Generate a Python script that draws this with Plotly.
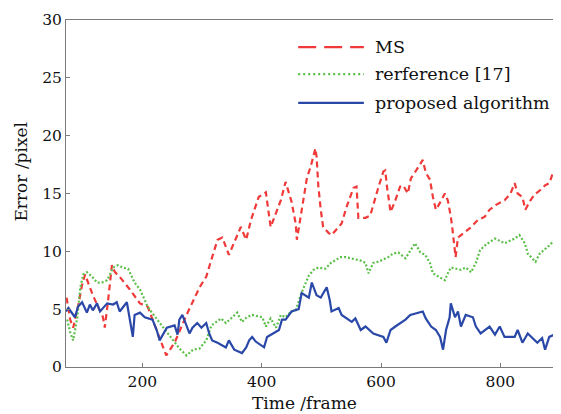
import plotly.graph_objects as go

# ---- data ----
ms_x = [73, 79, 84, 92, 99, 104, 109, 117, 134, 137, 142, 149, 154, 162, 179, 196, 209, 224, 234, 240,
        254, 274, 296, 307, 317, 326, 334, 340, 345, 365, 374, 382, 395, 407, 415, 432, 440, 450, 457, 459,
        467, 476, 482, 490, 492, 495, 499, 503, 512, 517, 529, 534, 542, 554, 559, 562, 574, 582, 596, 604,
        607, 610, 616, 624, 632, 637, 645, 650, 659, 670, 675, 682, 687, 692, 700, 707, 712, 717, 720, 725,
        729, 740, 749, 762, 774, 782, 792, 807, 817, 824, 829, 837, 842, 849, 857, 867, 875, 882, 887, 896]
ms_y = [6.0, 4.1, 3.4, 5.2, 7.1, 8.0, 7.3, 6.2, 4.3, 3.4, 5.5, 8.8, 8.2, 7.8, 6.7, 5.5, 5.2, 3.2, 1.7, 1.0,
        2.1, 4.5, 6.9, 7.8, 9.5, 11.0, 11.2, 10.4, 9.7, 12.1, 11.0, 12.7, 14.7, 15.1, 12.1, 14.4, 16.0, 14.3, 12.4, 11.0,
        13.6, 16.4, 17.3, 18.9, 18.2, 15.6, 13.6, 12.1, 11.6, 11.4, 12.1, 12.4, 13.8, 15.5, 15.6, 12.9, 12.9, 13.1, 15.6, 16.9,
        17.0, 15.6, 13.4, 14.4, 15.6, 15.7, 15.0, 16.3, 17.0, 17.9, 16.8, 16.2, 14.7, 13.6, 14.3, 15.0, 14.4, 13.0, 11.8, 9.5,
        11.2, 11.6, 12.0, 12.7, 13.0, 13.6, 14.0, 14.4, 15.0, 15.9, 15.0, 14.7, 13.6, 14.3, 14.9, 15.3, 15.7, 15.9, 16.6, 17.6]

ref_x = [74, 79, 84, 91, 96, 101, 107, 116, 124, 132, 141, 146, 151, 159, 167, 176, 182, 187, 196, 204,
         209, 216, 229, 241, 251, 262, 274, 285, 296, 307, 316, 324, 332, 340, 350, 359, 367, 375, 384, 401,
         407, 415, 424, 432, 440, 449, 457, 466, 474, 479, 487, 495, 507, 516, 532, 541, 549, 566, 574, 579,
         587, 596, 612, 620, 629, 641, 657, 666, 674, 682, 687, 699, 707, 712, 717, 734, 742, 751, 759, 766,
         774, 782, 791, 807, 824, 832, 841, 846, 859, 866, 882, 891, 896]
ref_y = [4.1, 3.0, 2.3, 4.3, 6.9, 8.0, 8.2, 7.8, 7.3, 7.3, 7.5, 8.1, 8.6, 8.8, 8.6, 8.5, 7.8, 7.3, 6.7, 5.8,
         5.2, 4.7, 3.8, 3.0, 2.3, 1.6, 1.0, 1.5, 1.6, 2.3, 3.6, 3.9, 4.2, 3.8, 4.3, 4.7, 3.9, 4.3, 4.5, 4.3,
         3.5, 4.2, 3.4, 4.5, 4.3, 4.8, 4.9, 6.3, 7.3, 7.9, 8.4, 8.6, 8.5, 9.0, 9.5, 9.5, 9.4, 9.2, 9.0, 8.1,
         9.0, 9.1, 9.5, 9.8, 9.9, 9.4, 10.7, 9.9, 9.7, 9.0, 8.1, 7.7, 7.5, 8.1, 8.6, 8.4, 8.6, 8.2, 9.0, 10.1,
         10.5, 10.8, 11.1, 10.7, 11.1, 11.4, 10.7, 9.8, 9.1, 9.8, 10.5, 11.0, 10.1]

prop_x = [72, 76, 87, 92, 99, 107, 112, 117, 124, 129, 141, 151, 157, 162, 174, 184, 187, 196, 204, 217,
          224, 229, 241, 254, 259, 262, 267, 279, 284, 292, 299, 307, 312, 317, 326, 340, 345, 354, 367, 374,
          379, 384, 390, 404, 409, 420, 429, 434, 440, 450, 462, 467, 479, 484, 492, 499, 504, 509, 514, 517,
          529, 534, 551, 557, 566, 574, 587, 604, 609, 616, 624, 632, 641, 649, 662, 670, 675, 684, 692, 699,
          704, 709, 715, 717, 724, 729, 734, 742, 754, 759, 767, 782, 791, 799, 807, 824, 829, 837, 846, 862,
          870, 875, 882, 891, 896]
prop_y = [4.8, 5.1, 4.3, 5.2, 5.6, 4.7, 5.4, 4.9, 5.5, 4.8, 5.5, 5.4, 5.6, 4.8, 5.6, 2.6, 4.5, 4.7, 4.3, 4.1,
          3.2, 2.3, 3.4, 3.6, 2.8, 4.1, 4.5, 2.9, 3.4, 3.8, 3.4, 3.8, 2.9, 2.3, 2.1, 1.7, 2.3, 1.5, 1.2, 1.7,
          2.3, 2.6, 2.2, 1.7, 2.6, 2.9, 3.2, 4.1, 4.1, 4.8, 5.0, 6.4, 6.0, 7.3, 6.2, 6.0, 6.4, 6.9, 5.8, 4.8,
          5.1, 4.5, 3.9, 4.2, 3.2, 3.5, 2.9, 2.6, 2.1, 3.2, 3.5, 3.8, 4.1, 4.5, 4.7, 4.8, 4.2, 3.5, 3.2, 2.6,
          1.5, 3.2, 4.3, 5.5, 4.3, 4.8, 3.5, 4.5, 4.3, 3.5, 2.9, 3.5, 2.8, 3.5, 2.6, 2.6, 3.2, 2.1, 2.9, 2.1,
          2.5, 1.5, 2.6, 2.8, 2.1]

x_ticks = [200, 400, 600, 800]
y_ticks = [0, 5, 10, 15, 20, 25, 30]
series_names = ["MS", "rerference [17]", "proposed algorithm"]
colors = ["#f03a3a", "#5cbf4a", "#2a48a8"]
data_dashes = ["6px,4px", "2px,2px", "solid"]
legend_dashes = ["18px,8px", "2px,3px", "solid"]

FONT = "DejaVu Serif"

fig = go.Figure()
for xs, ys, name, c, d in zip([ms_x, ref_x, prop_x], [ms_y, ref_y, prop_y], series_names, colors, data_dashes):
    fig.add_trace(go.Scatter(x=xs, y=ys, mode="lines", name=name, showlegend=False,
                             line=dict(color=c, width=2.2, dash=d)))

# manual legend (long line samples like the reference)
leg_y = [0.922, 0.844, 0.761]
for name, c, d, ly in zip(series_names, colors, legend_dashes, leg_y):
    fig.add_shape(type="line", xref="paper", yref="paper", x0=0.47, x1=0.603, y0=ly, y1=ly,
                  line=dict(color=c, width=2.2, dash=d))
    fig.add_annotation(xref="paper", yref="paper", x=0.621, y=ly, text=name, showarrow=False,
                       xanchor="left", yanchor="middle", font=dict(family=FONT, size=17.5, color="#111"))

fig.add_annotation(xref="paper", yref="paper", x=-0.092, y=0.562, text="Error /pixel", textangle=-90,
                   showarrow=False, xanchor="center", yanchor="middle",
                   font=dict(family=FONT, size=17, color="#111"))
fig.add_annotation(xref="paper", yref="paper", x=0.482, y=-0.104, text="Time /frame",
                   showarrow=False, xanchor="center", yanchor="middle",
                   font=dict(family=FONT, size=17, color="#111"))

axis_common = dict(showgrid=False, zeroline=False, showline=True, linecolor="#7a7a7a", linewidth=1,
                   mirror=True, ticks="inside", ticklen=4, tickcolor="#7a7a7a",
                   tickfont=dict(family=FONT, size=15.5, color="#111"))
fig.update_xaxes(range=[72, 900], tickvals=x_ticks, **axis_common)
fig.update_yaxes(range=[0, 30], tickvals=y_ticks, **axis_common)

# page body has an 8px default margin: compensate so the plot area lands where the reference has it
fig.update_layout(width=553, height=406, margin=dict(l=58, r=1, t=12, b=47),
                  plot_bgcolor="white", paper_bgcolor="white", showlegend=False)

fig.write_html("out.html")
